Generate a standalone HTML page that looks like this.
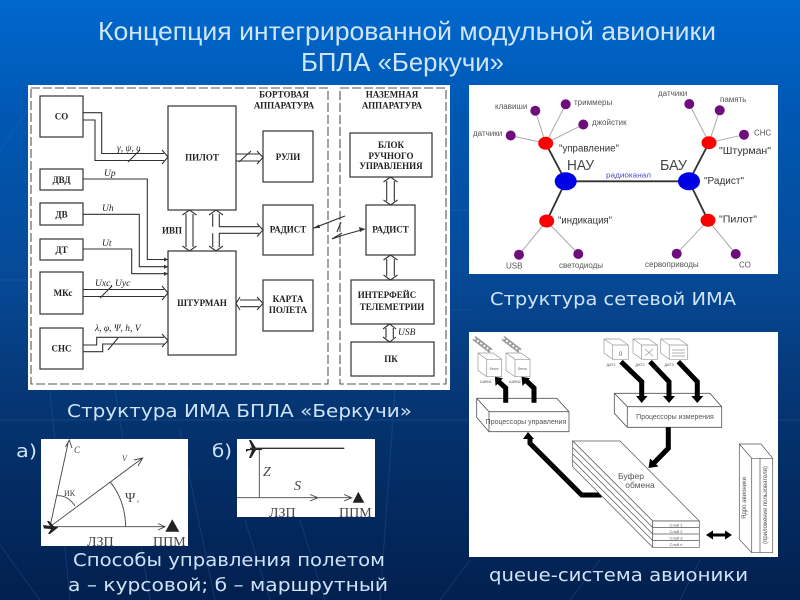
<!DOCTYPE html>
<html lang="ru"><head><meta charset="utf-8"><title>Концепция ИМА</title>
<style>
html,body{margin:0;padding:0;width:800px;height:600px;overflow:hidden;background:#003a80}
svg{display:block}
.s{font-family:"Liberation Serif",serif;font-weight:bold;fill:#222;text-anchor:middle;font-size:9px}
.i{font-family:"Liberation Serif",serif;font-style:italic;fill:#222;font-size:9.5px}
.n{font-family:"Liberation Sans",sans-serif;fill:#555;font-size:8px}
.d{font-family:"DejaVu Sans",sans-serif;fill:#cfe3f7;font-size:18px}
.t{font-family:"Liberation Sans",sans-serif;fill:#cfe6fa;font-size:26px}
.sm{font-family:"Liberation Sans",sans-serif;fill:#555;text-anchor:middle}
.blur{filter:url(#b)}
</style></head><body>
<svg width="800" height="600" viewBox="0 0 800 600" xmlns="http://www.w3.org/2000/svg">
<defs>
<linearGradient id="bg" x1="0" y1="0" x2="0" y2="1">
<stop offset="0" stop-color="#0068ce"/><stop offset=".18" stop-color="#0058b4"/><stop offset=".45" stop-color="#064a98"/><stop offset=".7" stop-color="#05336f"/><stop offset="1" stop-color="#02204f"/>
</linearGradient>
<filter id="b" x="-2%" y="-2%" width="104%" height="104%"><feGaussianBlur stdDeviation="0.35"/></filter>
</defs>
<rect width="800" height="600" fill="url(#bg)"/>
<g stroke="#3a78c0" stroke-width="1" fill="none" opacity=".25">
<path d="M50 390L70 600M115 390L150 600M180 430L215 600M245 520L270 600M300 520L325 600M395 390L380 600M470 560L440 600M600 560L570 600M700 560L680 600M0 545L40 600M0 150L28 110M0 280H28M0 420H800M450 210H470M450 310H470"/>
</g>

<text class="t" x="98" y="40" textLength="618" lengthAdjust="spacingAndGlyphs">Концепция интегрированной модульной авионики</text>
<text class="t" x="301" y="71" textLength="203" lengthAdjust="spacingAndGlyphs">БПЛА «Беркучи»</text>

<!-- Left diagram -->
<g class="blur">
<rect x="28" y="85" width="422" height="305" fill="#fff"/>
<g fill="none" stroke="#555" stroke-width="1.100" stroke-dasharray="9 3">
<rect x="31" y="88" width="297" height="296"/>
<rect x="340" y="88" width="106" height="296"/>
</g>
<g fill="#fff" stroke="#333" stroke-width="1.200">
<rect x="40" y="96" width="43" height="41"/>
<rect x="40" y="169" width="43" height="21"/>
<rect x="40" y="203" width="43" height="22"/>
<rect x="40" y="239" width="43" height="21"/>
<rect x="40" y="272" width="43" height="42"/>
<rect x="40" y="328" width="43" height="41"/>
<rect x="168" y="106" width="68" height="104"/>
<rect x="168" y="251" width="68" height="104"/>
<rect x="263" y="131" width="50" height="51"/>
<rect x="263" y="205" width="50" height="50"/>
<rect x="263" y="280" width="50" height="51"/>
<rect x="350" y="133" width="82" height="44"/>
<rect x="366" y="205" width="49" height="50"/>
<rect x="351" y="280" width="83" height="44"/>
<rect x="351" y="342" width="83" height="34"/>
</g>
<g fill="none" stroke="#333" stroke-width="1.100">
<path d="M83 112.700H101.700V153.500H164M83 120H95V160.500H164M162 150L168 157L162 164"/>
<path d="M83 179H147.300V259.500H168M83 214.300H139.300V266.700H168M83 249H131.700V273.700H168"/>
<path d="M83 289.500H164M83 296.500H164M162 286L168 293L162 300"/>
<path d="M83 345H96.700V337.300H164M83 351.700H102.700V344H164M162 334L168 340.500L162 347"/>
<path d="M128 162L140 150M100 298L112 286M108 350L118 338M239 162L251 151"/>
<path d="M236 154H259M236 161H259M257 151L263 157.500L257 164"/>
<path d="M219 226.700H259M219 233.300H259M257 223.500L263 230L257 236.500"/>
<path d="M240 300H259M240 306.700H259M257 297L263 303.400L257 310M240 297L236 303.400L240 310"/>
<path d="M186 214V247M193 214V247M182.500 215L189.500 210L196.500 215M182.500 246L189.500 251L196.500 246"/>
<path d="M212.700 214V226.700M219.300 214V226.700M212.700 233.300V247M219.300 233.300V247M209 215L216 210L223 215M209 246L216 251L223 246"/>
<path d="M386.700 181V201M394.300 181V201M383.500 182L390.500 177L397.500 182M383.500 200L390.500 205L397.500 200"/>
<path d="M386.700 259V276M394.300 259V276M383.500 260L390.500 255L397.500 260M383.500 275L390.500 280L397.500 275"/>
<path d="M386 328V338M393.300 328V338M383 329L389.600 324L396 329M383 337L389.600 342L396 337"/>
<path d="M313 228.300L345 216M341 222L337 232M365 229L347 234L342 235.500L332 239L342 233"/>
</g>
<g fill="#333">
<path d="M164 257.500L168 259.500L164 261.500ZM164 264.700L168 266.700L164 268.700ZM164 271.700L168 273.700L164 275.700Z"/>
<path d="M313 228.300L319 224.500L320 228ZM365 229L359 227L360 232Z"/>
</g>
<text class="s" x="61.500" y="119.500">СО</text>
<text class="s" x="61.500" y="183">ДВД</text>
<text class="s" x="61.500" y="217.500">ДВ</text>
<text class="s" x="61.500" y="253">ДТ</text>
<text class="s" x="63" y="296">МКс</text>
<text class="s" x="61.500" y="351.500">СНС</text>
<text class="s" x="202" y="160.500">ПИЛОТ</text>
<text class="s" x="202" y="306">ШТУРМАН</text>
<text class="s" x="172" y="233.500">ИВП</text>
<text class="s" x="288" y="160">РУЛИ</text>
<text class="s" x="288" y="232.500">РАДИСТ</text>
<text class="s" x="288" y="302">КАРТА</text>
<text class="s" x="288" y="313">ПОЛЕТА</text>
<text class="s" x="284" y="97.500">БОРТОВАЯ</text>
<text class="s" x="284" y="108.500">АППАРАТУРА</text>
<text class="s" x="392" y="97.500">НАЗЕМНАЯ</text>
<text class="s" x="392" y="108.500">АППАРАТУРА</text>
<text class="s" x="391" y="148">БЛОК</text>
<text class="s" x="391" y="159">РУЧНОГО</text>
<text class="s" x="391" y="169">УПРАВЛЕНИЯ</text>
<text class="s" x="390.500" y="232.500">РАДИСТ</text>
<text class="s" x="387" y="298">ИНТЕРФЕЙС</text>
<text class="s" x="392" y="310">ТЕЛЕМЕТРИИ</text>
<text class="s" x="391" y="362">ПК</text>
<text class="i" x="117" y="151">γ, ψ, υ</text>
<text class="i" x="104" y="176">Up</text>
<text class="i" x="102" y="211">Uh</text>
<text class="i" x="102" y="246">Ut</text>
<text class="i" x="95" y="286">Uxc, Uyc</text>
<text class="i" x="95" y="331">λ, φ, Ψ, h, V</text>
<text class="i" x="398" y="335">USB</text>
</g>

<!-- Network -->
<g class="blur">
<rect x="469" y="85" width="309" height="189" fill="#fff"/>
<g stroke="#aaa" stroke-width="1">
<path d="M545.700 143.300L510 135.500M545.700 143.300L535.300 110.700M545.700 143.300L565.700 104.300M545.700 143.300L583.300 124.500"/>
<path d="M546.700 221L519 254.700M546.700 221L578.300 254"/>
<path d="M709 142.700L689.300 104M709 142.700L719.700 110.300M709 142.700L744 134.700"/>
<path d="M708 220.300L676.700 253.700M708 220.300L735.700 254"/>
</g>
<g stroke="#333" stroke-width="1.800">
<path d="M565.700 181.300H689M565.700 181.300L545.700 143.300M565.700 181.300L546.700 221M689 181.300L709 142.700M689 181.300L708 220.300"/>
</g>
<g fill="#6e0f7c">
<circle cx="510.700" cy="135.500" r="5"/><circle cx="535.300" cy="110.700" r="5"/><circle cx="565.700" cy="104.300" r="5"/><circle cx="583.300" cy="124.500" r="5"/>
<circle cx="519" cy="254.700" r="5"/><circle cx="578.300" cy="254" r="5"/>
<circle cx="689.300" cy="104" r="5"/><circle cx="719.700" cy="110.300" r="5"/><circle cx="744" cy="134.700" r="5"/>
<circle cx="676.700" cy="253.700" r="5"/><circle cx="735.700" cy="254" r="5"/>
</g>
<g fill="#f00">
<ellipse cx="545.700" cy="143.300" rx="7.500" ry="6.500"/><ellipse cx="546.700" cy="221" rx="7.500" ry="6.500"/>
<ellipse cx="709" cy="142.700" rx="7.500" ry="6.500"/><ellipse cx="708" cy="220.300" rx="7.500" ry="6.500"/>
</g>
<g fill="#0000e6"><ellipse cx="565.700" cy="181.300" rx="11" ry="9"/><ellipse cx="689" cy="181.300" rx="11" ry="9"/></g>
<text class="n" x="495" y="109">клавиши</text>
<text class="n" x="574" y="105">триммеры</text>
<text class="n" x="592" y="125">джойстик</text>
<text class="n" x="473" y="136">датчики</text>
<text class="n" x="658" y="96">датчики</text>
<text class="n" x="720" y="102">память</text>
<text class="n" x="754" y="135.500">СНС</text>
<text class="n" x="506" y="268.500">USB</text>
<text class="n" x="559" y="268">светодиоды</text>
<text class="n" x="645" y="267">сервоприводы</text>
<text class="n" x="739" y="267.500">СО</text>
<g font-family="Liberation Sans,sans-serif" font-size="10" fill="#333">
<text x="559" y="151.500" textLength="60" lengthAdjust="spacingAndGlyphs">"управление"</text>
<text x="558" y="223.500" textLength="54" lengthAdjust="spacingAndGlyphs">"индикация"</text>
<text x="719" y="154" textLength="52" lengthAdjust="spacingAndGlyphs">"Штурман"</text>
<text x="704" y="184" textLength="40" lengthAdjust="spacingAndGlyphs">"Радист"</text>
<text x="719" y="222.500" textLength="38" lengthAdjust="spacingAndGlyphs">"Пилот"</text>
</g>
<g font-family="Liberation Sans,sans-serif" font-size="15" fill="#444">
<text x="567" y="170" textLength="27" lengthAdjust="spacingAndGlyphs">НАУ</text>
<text x="660" y="170" textLength="27" lengthAdjust="spacingAndGlyphs">БАУ</text>
</g>
<text x="606" y="177.500" font-family="Liberation Sans,sans-serif" font-size="7.500" fill="#4a4ac0" textLength="45" lengthAdjust="spacingAndGlyphs">радиоканал</text>
</g>
<text class="d" x="490" y="305" textLength="246" lengthAdjust="spacingAndGlyphs">Структура сетевой ИМА</text>

<!-- Queue -->
<g class="blur">
<rect x="469" y="332" width="309" height="225" fill="#fff"/>
<g fill="#fff" stroke="#999" stroke-width=".7">
<path d="M604 339H619.700L628.300 345V359.300H612.700L604 353Z M604 339L612.700 345V359.300M612.700 345H628.300"/>
<path d="M633 339H648.700L657.300 345V359.300H641.700L633 353Z M633 339L641.700 345V359.300M641.700 345H657.300"/>
<path d="M660.700 339H679L687.700 345V359.300H669.300L660.700 353Z M660.700 339L669.300 345V359.300M669.300 345H687.700"/>
<path d="M478 353H493L501.700 359.300V376.700H486.700L478 370.400Z M478 353L486.700 359.300V376.700M486.700 359.300H501.700"/>
<path d="M506 353H521L530 359.300V376.700H515L506 370.400Z M506 353L515 359.300V376.700M515 359.300H530"/>
<path d="M645 349L653 356M653 349L645 356M672 350H685M672 353H685M672 356H685" fill="none"/>
</g>
<g stroke="#999" stroke-width="5" fill="none"><path d="M474 338L491 351M503 338L520 351"/></g>
<g stroke="#fff" stroke-width="2" stroke-dasharray="2 2" fill="none"><path d="M474 338L491 351M503 338L520 351"/></g>
<g fill="#fff" stroke="#555" stroke-width=".8">
<path d="M476.700 398.300H556.700L569 411.700V431.700H489L476.700 417.300Z M476.700 398.300L489 411.700V431.700M489 411.700H569"/>
<path d="M614.300 393.300H710L721.700 406.700V427.300H627.300L614.300 413.300Z M614.300 393.300L627.300 406.700V427.300M627.300 406.700H721.700"/>
</g>
<g fill="none" stroke="#000" stroke-width="5">
<path d="M505.700 402.700V388L498 381"/>
<path d="M534 402.700V388L526.500 381"/>
<path d="M621 361.700L641.700 381.700V398"/>
<path d="M650 361.700L669 381.700V398"/>
<path d="M678.300 361.700L697.300 381.700V398"/>
<path d="M668.300 427.300V448.300L652 465"/>
<path d="M601.700 495H581.700L530 443.300V437"/>
</g>
<g fill="#000">
<path d="M495 376.800L503 378.300L495.500 386ZM521.500 376.800L530 378.300L522.500 386Z"/>
<path d="M636 396H647.500L641.700 403ZM663 396H675L669 403ZM691.300 396H703.300L697.300 403Z"/>
<path d="M648.500 468L650 458.500L658.500 466.500Z"/>
<path d="M528 432L523 439H534Z"/>
<path d="M706 535L713 530.500V533.500H725V530.500L732 535L725 539.500V536.500H713V539.500Z"/>
</g>
<g fill="#fff" stroke="#555" stroke-width=".7">
<path d="M572.700 441H620L699.300 521H652.700Z"/>
<path d="M572.700 441V466.700L652.700 547.300V521Z"/>
<path d="M572.700 447.500L652.700 527.500M572.700 454L652.700 534M572.700 460.500L652.700 540.500" fill="none"/>
<path d="M652.700 521H699.300V547.300H652.700ZM652.700 527.500H699.300M652.700 534H699.300M652.700 540.500H699.300"/>
<path d="M739.300 444H761L772.700 458.300V552.700H751.700L739.300 539.300Z M739.300 444L751.700 458.300V552.700M751.700 458.300H772.700M760 458.300V552.700"/>
</g>
<text class="sm" x="526" y="424" font-size="7">Процессоры управления</text>
<text class="sm" x="675" y="419" font-size="7">Процессоры измерения</text>
<text class="sm" x="631" y="479" font-size="8.500">Буфер</text>
<text class="sm" x="640" y="488" font-size="8.500">обмена</text>
<text class="sm" x="676" y="526.500" font-size="4">Слой 1</text>
<text class="sm" x="676" y="533" font-size="4">Слой 2</text>
<text class="sm" x="676" y="539.500" font-size="4">Слой 3</text>
<text class="sm" x="676" y="546" font-size="4">Слой n</text>
<text class="sm" x="494" y="370" font-size="3.500">Servo</text>
<text class="sm" x="522.500" y="370" font-size="3.500">Servo</text>
<text class="sm" x="486" y="383" font-size="3.800">ШИМ1</text>
<text class="sm" x="515" y="383" font-size="3.800">ШИМ2</text>
<text class="sm" x="611" y="366" font-size="3.800">ДАТ1</text>
<text class="sm" x="640" y="366" font-size="3.800">ДАТ2</text>
<text class="sm" x="669" y="366" font-size="3.800">ДАТ3</text>
<text class="sm" x="620.500" y="356" font-size="6">0</text>
<text class="sm" transform="translate(746 498) rotate(-90)" font-size="6">Ядро авионики</text>
<text class="sm" transform="translate(767 505) rotate(-90)" font-size="6">(приложение пользователя)</text>
</g>
<text class="d" x="489" y="581" textLength="259" lengthAdjust="spacingAndGlyphs">queue-система авионики</text>

<text class="d" x="67" y="417" textLength="345" lengthAdjust="spacingAndGlyphs">Структура ИМА БПЛА «Беркучи»</text>
<text class="d" x="16" y="457" textLength="21" lengthAdjust="spacingAndGlyphs">а)</text>
<text class="d" x="212" y="457" textLength="20" lengthAdjust="spacingAndGlyphs">б)</text>

<!-- flight a / b -->
<g class="blur">
<rect x="41" y="439" width="147" height="107" fill="#fff"/>
<rect x="237" y="439" width="138" height="78" fill="#fff"/>
<g fill="none" stroke="#444" stroke-width=".9">
<path d="M50 526.700L68.500 441M65.500 447L69.300 440L72 448"/>
<path d="M50 526.700L142.700 458M134 460L142.700 458L138 466"/>
<path d="M50 526.700H165M158 523.500L165 526.700L158 530"/>
<path d="M56.700 495.700Q68 495 75 506"/>
<path d="M110 481.700Q125 500 125.700 526.700"/>
<path d="M259.300 449V497"/>
<path d="M237 497.700H351.700M344 494.500L351.700 497.700L344 501M310 494.500L318 497.700L310 501"/>
</g>
<path d="M250 448.300H344.300" stroke="#333" stroke-width="1.400"/>
<g fill="#222">
<path d="M172.300 519.300L165.300 531.700H179.300Z"/>
<path d="M358.300 491.700L352.700 502.700H364.300Z"/>
<path d="M43 525L50 526L47 521H49L54 526.500H58V527.500L50 534H48L51 529L44 528.500Z"/>
<path d="M246 449H262V450H256L251 458H249L252 450L248 450.500L246 452ZM249 440H251L256 448H252Z"/>
</g>
<g font-family="Liberation Serif,serif" fill="#444">
<text x="74" y="453" font-size="9" font-style="italic">C</text>
<text x="122" y="461" font-size="8" font-style="italic">V</text>
<text x="64" y="496" font-size="8">ИК</text>
<text x="125" y="502" font-size="14">Ψ</text>
<text x="137" y="503" font-size="5" font-style="italic">v</text>
<text x="87" y="546" font-size="14">ЛЗП</text>
<text x="153" y="546" font-size="14">ППМ</text>
<text x="263" y="476" font-size="14" font-style="italic">Z</text>
<text x="294" y="490" font-size="14" font-style="italic">S</text>
<text x="269" y="517" font-size="14">ЛЗП</text>
<text x="339" y="517" font-size="14">ППМ</text>
</g>
</g>
<text class="d" x="73" y="566" textLength="312" lengthAdjust="spacingAndGlyphs">Способы управления полетом</text>
<text class="d" x="68" y="591" textLength="320" lengthAdjust="spacingAndGlyphs">а – курсовой; б – маршрутный</text>
</svg>
</body></html>
